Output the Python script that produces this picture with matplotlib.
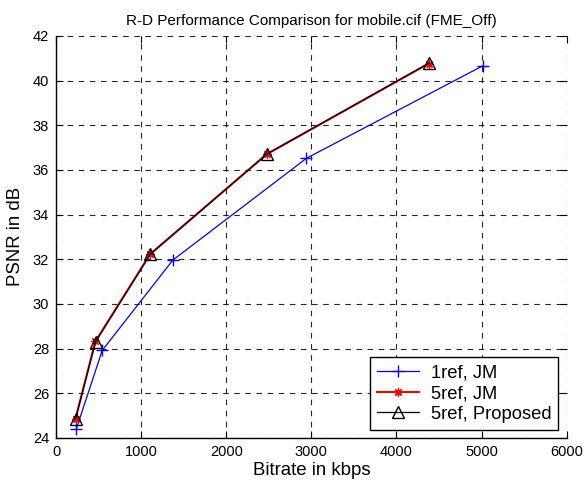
import matplotlib
matplotlib.use("Agg")
import matplotlib.pyplot as plt

plt.rcParams['font.family'] = ['Liberation Sans', 'DejaVu Sans']

bitrate_1ref_jm = [237, 543, 1372, 2943, 5015]
psnr_1ref_jm = [24.39, 27.92, 31.96, 36.52, 40.66]

bitrate_5ref_jm = [229, 462, 1105, 2475, 4380]
psnr_5ref_jm = [24.85, 28.32, 32.22, 36.70, 40.76]

bitrate_5ref_prop = [229, 464, 1109, 2478, 4382]
psnr_5ref_prop = [24.87, 28.30, 32.24, 36.71, 40.78]

xticks = [0, 1000, 2000, 3000, 4000, 5000, 6000]
yticks = [24, 26, 28, 30, 32, 34, 36, 38, 40, 42]

fig = plt.figure(figsize=(5.86, 4.91), dpi=100)
ax = fig.add_axes([0.0956, 0.108, 0.8714, 0.819])

ax.plot(bitrate_1ref_jm, psnr_1ref_jm, color='blue', lw=0.9, marker='+', ms=9, mew=1.0, label='1ref, JM')
ax.plot(bitrate_5ref_jm, psnr_5ref_jm, color='red', lw=1.5, marker=(8, 2, 0), ms=6, mew=0.9, label='5ref, JM')
ax.plot(bitrate_5ref_prop, psnr_5ref_prop, color='black', lw=0.9, marker='^', ms=9, mfc='none', mec='black', mew=1.0, label='5ref, Proposed')

ax.set_xlim(0, 6000)
ax.set_ylim(24, 42)
ax.set_xticks(xticks)
ax.set_yticks(yticks)
ax.tick_params(direction='in', top=True, right=True, labelsize=10.5, length=5, pad=5)
ax.grid(True, color='black', linestyle=(0, (5, 5)), linewidth=0.8, alpha=0.85)
ax.spines['top'].set_visible(False)
ax.spines['right'].set_visible(False)
for s in ['left', 'bottom']:
    ax.spines[s].set_linewidth(1.0)

ax.set_title('R-D Performance Comparison for mobile.cif (FME_Off)', fontsize=11, pad=8)
ax.set_xlabel('Bitrate in kbps', fontsize=13.4, labelpad=2)
ax.set_ylabel('PSNR in dB', fontsize=13.4, labelpad=6)

leg = ax.legend(loc='lower right', fontsize=13.2, fancybox=False, framealpha=1,
                edgecolor='black', borderpad=0.38, handlelength=2.3, handletextpad=0.65,
                labelspacing=0.2, borderaxespad=0.45)
leg.get_frame().set_linewidth(1.0)

fig.savefig('out.png', dpi=100)
